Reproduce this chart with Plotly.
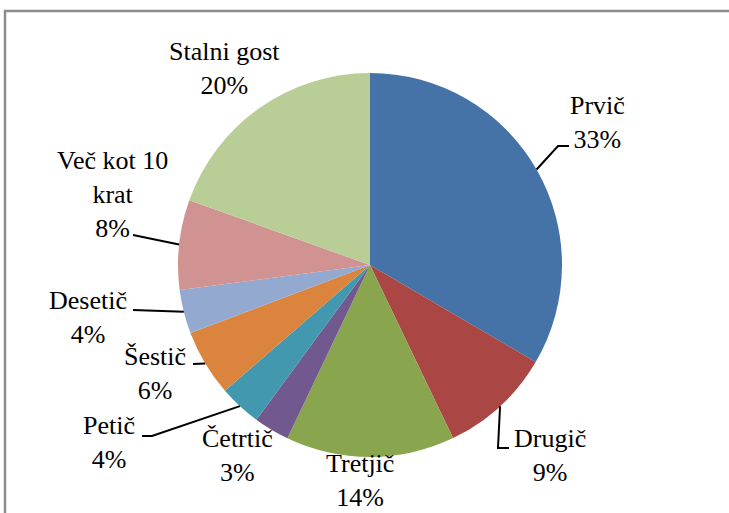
"""Pie chart of visit frequency with outside labels and leader lines."""

import math

import plotly.graph_objects as go

# Data
labels = ['Prvič', 'Drugič', 'Tretjič', 'Četrtič', 'Petič', 'Šestič',
          'Desetič', 'Več kot 10 krat', 'Stalni gost']
label_text = ['Prvič', 'Drugič', 'Tretjič', 'Četrtič', 'Petič', 'Šestič',
              'Desetič', 'Več kot 10<br>krat', 'Stalni gost']
shares = [33.43, 9.45, 14.2, 3.0, 3.55, 5.6, 3.7, 7.55, 19.52]
colors = ['#4572A7', '#AA4643', '#89A54E', '#71588F', '#4198AF',
          '#DB843D', '#93A9CF', '#D19392', '#B9CD96']

W, H = 729, 513
CX, CY, R = 370, 265, 192  # pie centre and radius in pixels

# label centres (px) and leader line bend points (px)
label_pos = [(597, 123), (550, 455), (360, 480), (237, 455), (109, 442),
             (155, 373), (88, 317), (112, 195), (224, 68)]
leader = {
    0: [(558, 146), (569, 146)],
    1: [(498, 448), (509, 448)],
    4: [(152, 436), (142, 436)],
    5: [(193, 364)],
    6: [(133, 310)],
    7: [(133, 235)],
}


def px(x):
    return x / W


def py(y):
    return 1 - y / H


fig = go.Figure(go.Pie(
    labels=labels,
    values=shares,
    sort=False,
    direction='clockwise',
    rotation=0,
    textinfo='none',
    hoverinfo='label+percent',
    marker=dict(colors=colors, line=dict(width=0)),
    domain=dict(x=[px(CX - R), px(CX + R)], y=[py(CY + R), py(CY - R)]),
    showlegend=False,
))

total = sum(shares)
font = dict(family='Liberation Serif', size=26, color='black')

# Labels
for i, (name, val) in enumerate(zip(label_text, shares)):
    x, y = label_pos[i]
    fig.add_annotation(
        x=px(x), y=py(y), xref='paper', yref='paper',
        text=f'{name}<br>{round(val / total * 100)}%',
        showarrow=False, xanchor='center', yanchor='middle',
        font=font, align='center', borderpad=0
    )

# Leader lines from slice middle on the rim
cum = 0
for i, val in enumerate(shares):
    mid = (cum + val / 2) / total * 2 * math.pi
    cum += val
    if i not in leader:
        continue
    pts = [(CX + R * math.sin(mid), CY - R * math.cos(mid))] + leader[i]
    path = 'M ' + ' L '.join(f'{px(a)},{py(b)}' for a, b in pts)
    fig.add_shape(type='path', path=path, xref='paper', yref='paper',
                  line=dict(color='black', width=2))

# Chart area border
fig.add_shape(type='rect', xref='paper', yref='paper',
              x0=px(5), x1=px(W + 20), y0=py(H + 20), y1=py(11),
              line=dict(color='#8c8c8c', width=2.5))

fig.update_layout(
    width=W, height=H,
    margin=dict(l=0, r=0, t=0, b=0),
    paper_bgcolor='white',
    plot_bgcolor='white',
)

# page body margin off so the figure sits at the window's corner
fig.write_html('out.html', config={'displayModeBar': False},
               post_script="document.body.style.margin='0';")
